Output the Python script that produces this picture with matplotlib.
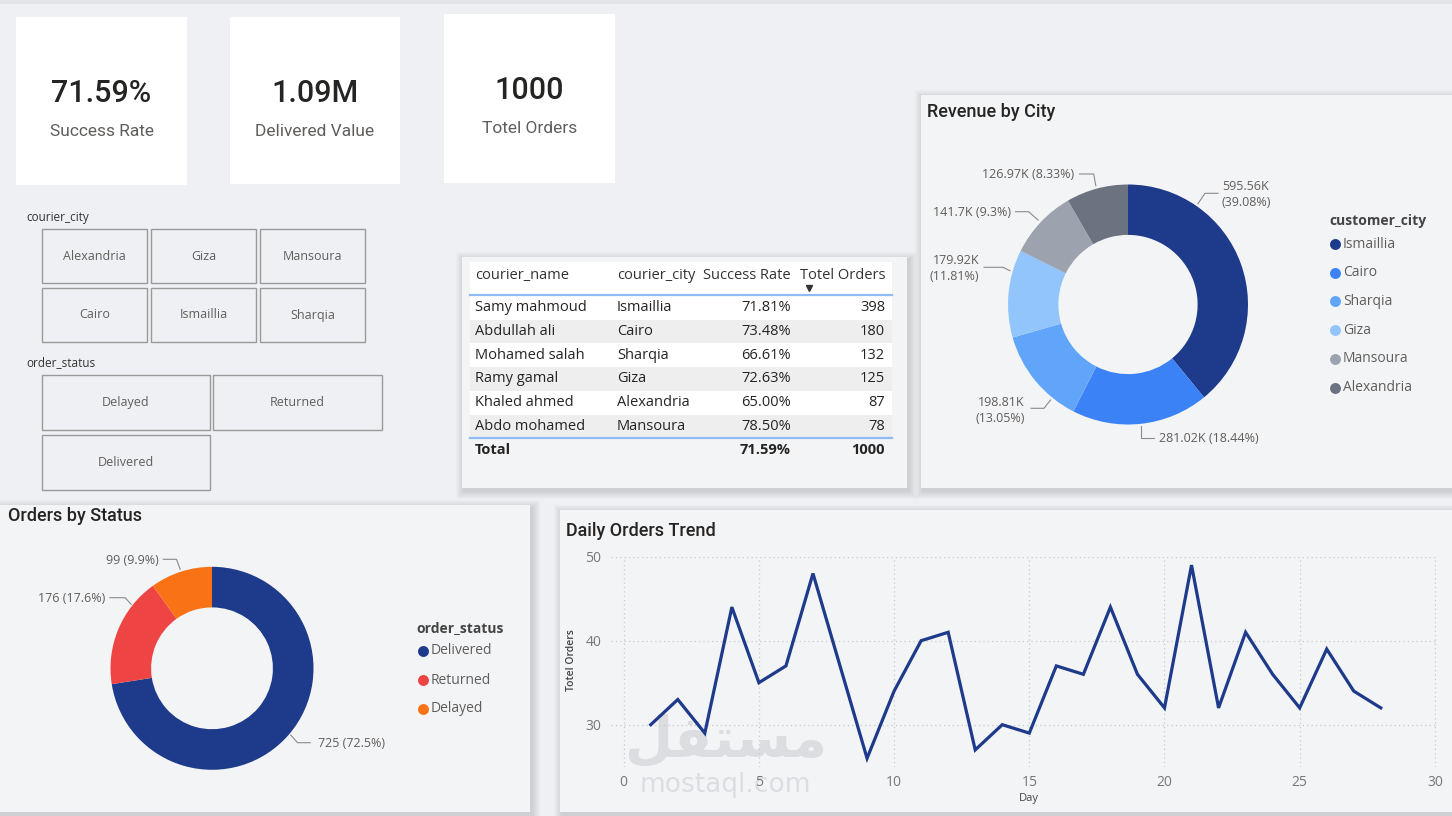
import numpy as np
import matplotlib.pyplot as plt
from matplotlib.patches import Rectangle

# KPI cards
kpi_values = ['71.59%', '1.09M', '1000']
kpi_labels = ['Success Rate', 'Delivered Value', 'Totel Orders']

# slicers
slicer_cities = ['Alexandria', 'Giza', 'Mansoura', 'Cairo', 'Ismaillia', 'Sharqia']
slicer_status = ['Delayed', 'Returned', 'Delivered']

# courier table
table_cols = ['courier_name', 'courier_city', 'Success Rate', 'Totel Orders']
couriers = ['Samy mahmoud', 'Abdullah ali', 'Mohamed salah', 'Ramy gamal', 'Khaled ahmed', 'Abdo mohamed']
courier_cities = ['Ismaillia', 'Cairo', 'Sharqia', 'Giza', 'Alexandria', 'Mansoura']
success_rates = [71.81, 73.48, 66.61, 72.63, 65.00, 78.50]
courier_orders = [398, 180, 132, 125, 87, 78]
total_rate = 71.59

# revenue by city (K)
rev_cities = ['Ismaillia', 'Cairo', 'Sharqia', 'Giza', 'Mansoura', 'Alexandria']
rev_values = [595.56, 281.02, 198.81, 179.92, 141.70, 126.97]

# orders by status
status_names = ['Delivered', 'Returned', 'Delayed']
status_counts = [725, 176, 99]

# daily orders
days = list(range(1, 29))
daily_orders = [30, 33, 29, 44, 35, 37, 48, 37, 26, 34, 40, 41, 27, 30, 29, 37,
                36, 44, 36, 32, 49, 32, 41, 36, 32, 39, 34, 32]

# colours
BG = '#eef0f3'
PANEL = '#f3f4f6'
NAVY = '#1e3a8a'
city_colors = ['#1e3a8a', '#3b82f6', '#60a5fa', '#93c5fd', '#9ca3af', '#6b7280']
status_colors = ['#1e3a8a', '#ef4444', '#f97316']
TXT = '#252423'
GREY = '#605e5c'

plt.rcParams['font.family'] = ['Open Sans', 'DejaVu Sans']
TITLE_FONT = ['Roboto', 'DejaVu Sans']

W, H = 1452, 816
fig = plt.figure(figsize=(W / 100, H / 100), dpi=100)
fig.patch.set_facecolor(BG)

# pixel canvas (top-left origin)
bg = fig.add_axes([0, 0, 1, 1])
bg.set_xlim(0, W)
bg.set_ylim(H, 0)
bg.axis('off')


def box(x0, y0, x1, y1):
    return fig.add_axes([x0 / W, 1 - y1 / H, (x1 - x0) / W, (y1 - y0) / H])


def panel(x0, y0, x1, y1, fc=PANEL, shadow=True):
    if shadow:
        for k in range(1, 9):
            bg.add_patch(Rectangle((x0 - k + 2, y0 - k + 3), x1 - x0 + 2 * k, y1 - y0 + 2 * k,
                                   fc='#000000', alpha=0.014, lw=0))
    bg.add_patch(Rectangle((x0, y0), x1 - x0, y1 - y0, fc=fc, lw=0))


def fmt_num(v):
    return f'{v:.2f}'.rstrip('0').rstrip('.')


# top strip
bg.add_patch(Rectangle((0, 0), W, 4, fc='#e2e3e6', lw=0))

# ---- KPI cards
cards = [(16, 17, 187, 185), (230, 17, 400, 184), (444, 14, 615, 183)]
for (x0, y0, x1, y1), val, lab in zip(cards, kpi_values, kpi_labels):
    bg.add_patch(Rectangle((x0, y0), x1 - x0, y1 - y0, fc='white', lw=0))
    cx = (x0 + x1) / 2
    bg.text(cx, y0 + 85, val, ha='center', va='baseline', fontsize=22, fontweight='medium',
            family=TITLE_FONT, color=TXT)
    bg.text(cx, y0 + 119, lab, ha='center', va='baseline', fontsize=12.5,
            family=TITLE_FONT, color=GREY)

# ---- slicers
bg.text(26, 217, 'courier_city', fontsize=8.5, color='#333333', va='center')
city_btns = [(42, 229, 147, 283), (151, 229, 256, 283), (260, 229, 365, 283),
             (42, 288, 147, 342), (151, 288, 256, 342), (260, 288, 365, 342)]
for (x0, y0, x1, y1), name in zip(city_btns, slicer_cities):
    bg.add_patch(Rectangle((x0, y0), x1 - x0, y1 - y0, fc='none', ec='#9a9a9a', lw=1))
    bg.text((x0 + x1) / 2, (y0 + y1) / 2, name, ha='center', va='center', fontsize=9, color=GREY)

bg.text(26, 363, 'order_status', fontsize=8.5, color='#333333', va='center')
status_btns = [(42, 375, 210, 430), (213, 375, 382, 430), (42, 435, 210, 490)]
for (x0, y0, x1, y1), name in zip(status_btns, slicer_status):
    bg.add_patch(Rectangle((x0, y0), x1 - x0, y1 - y0, fc='none', ec='#9a9a9a', lw=1))
    bg.text((x0 + x1) / 2, (y0 + y1) / 2, name, ha='center', va='center', fontsize=9, color=GREY)

# ---- table
panel(462, 257, 907, 488)
tx0, tx1 = 470, 892
bg.add_patch(Rectangle((tx0, 262), tx1 - tx0, 32, fc='white', lw=0))
col_x = [475, 617, 791, 885]
col_ha = ['left', 'left', 'right', 'right']
for x, ha, c in zip(col_x, col_ha, table_cols):
    bg.text(x, 275.5, c, ha=ha, va='center', fontsize=10.5, color='#333333')
bg.plot([809], [287.5], marker='v', ms=5, color='#333333')
row_h = 23.7
row_y0 = 296
for i, (n, c, r, o) in enumerate(zip(couriers, courier_cities, success_rates, courier_orders)):
    y0 = row_y0 + i * row_h
    bg.add_patch(Rectangle((tx0, y0), tx1 - tx0, row_h,
                           fc='white' if i % 2 == 0 else '#eeeeee', lw=0))
    cy = y0 + row_h / 2
    bg.text(col_x[0], cy, n, ha='left', va='center', fontsize=10.5, color=TXT)
    bg.text(col_x[1], cy, c, ha='left', va='center', fontsize=10.5, color=TXT)
    bg.text(col_x[2], cy, f'{r:.2f}%', ha='right', va='center', fontsize=10.5, color=TXT)
    bg.text(col_x[3], cy, f'{o}', ha='right', va='center', fontsize=10.5, color=TXT)
bg.plot([tx0, tx1], [295, 295], color='#8fbcf5', lw=1.6)
y_end = row_y0 + len(couriers) * row_h
bg.plot([tx0, tx1], [y_end, y_end], color='#8fbcf5', lw=1.6)
bg.text(col_x[0], y_end + 12, 'Total', ha='left', va='center', fontsize=10.5,
        fontweight='bold', color=TXT)
bg.text(col_x[2], y_end + 12, f'{total_rate:.2f}%', ha='right', va='center', fontsize=10.5,
        fontweight='bold', color=TXT)
bg.text(col_x[3], y_end + 12, f'{sum(courier_orders)}', ha='right', va='center', fontsize=10.5,
        fontweight='bold', color=TXT)

# ---- revenue by city
panel(921, 95, 1460, 488)
bg.text(927, 112, 'Revenue by City', fontsize=13, family=TITLE_FONT, fontweight='medium',
        color=TXT, va='center')
axr = box(1008, 184.5, 1248, 424.5)
axr.pie(rev_values, colors=city_colors, startangle=90, counterclock=False,
        radius=1, wedgeprops=dict(width=0.42, lw=0))
axr.set_xlim(-1, 1)
axr.set_ylim(-1, 1)
axr.axis('off')

rev_total = sum(rev_values)
rev_labels = [f'{fmt_num(v)}K ({fmt_num(v / rev_total * 100)}%)' for v in rev_values]
# label anchor, alignment, line break, leader path (pixels)
rev_layout = [
    (1222, 194.5, 'left', True, [(1198, 203.7), (1205, 193.3), (1218, 193.3)]),
    (1159, 439, 'left', False, [(1140.5, 426), (1140.5, 438.3), (1154, 438.3)]),
    (1025, 410, 'right', True, [(1050.5, 400), (1044, 408.3), (1031, 408.3)]),
    (979.5, 269, 'right', True, [(1010, 270.7), (1003, 267.3), (984, 267.3)]),
    (1011, 212.3, 'right', False, [(1038, 220), (1028.6, 211.7), (1015.5, 211.7)]),
    (1074.5, 174.3, 'right', False, [(1095.8, 185.7), (1093.7, 174), (1079.5, 174)]),
]
for lab, (x, y, ha, brk, path) in zip(rev_labels, rev_layout):
    if brk:
        lab = lab.replace(' ', '\n')
    bg.text(x, y, lab, ha=ha, va='center', fontsize=9, color=GREY, linespacing=1.3,
            multialignment=ha)
    px, py = zip(*path)
    bg.plot(px, py, color='#8a8a8a', lw=0.8)

bg.text(1329, 220.7, 'customer_city', fontsize=10, fontweight='bold', color='#444444', va='center')
for i, (c, col) in enumerate(zip(rev_cities, city_colors)):
    yy = 244 + i * 28.7
    bg.scatter([1334.7], [yy], s=62, color=col, lw=0)
    bg.text(1343, yy, c, fontsize=10, color=GREY, va='center')

# ---- orders by status
panel(-10, 505, 530, 812)
bg.text(8, 516, 'Orders by Status', fontsize=13, family=TITLE_FONT, fontweight='medium',
        color=TXT, va='center')
axs = box(110.5, 566.8, 313.5, 769.8)
axs.pie(status_counts, colors=status_colors, startangle=90, counterclock=False,
        radius=1, wedgeprops=dict(width=0.4, lw=0))
axs.set_xlim(-1, 1)
axs.set_ylim(-1, 1)
axs.axis('off')

st_total = sum(status_counts)
st_labels = [f'{v} ({fmt_num(v / st_total * 100)}%)' for v in status_counts]
st_layout = [
    (317.5, 743.3, 'left', [(290.7, 735), (297.5, 742.7), (310.3, 742.7)]),
    (105, 598.3, 'right', [(131.2, 604.3), (125.1, 597.7), (109.9, 597.7)]),
    (158.5, 560.7, 'right', [(180.2, 569.3), (176.5, 559.3), (163.3, 559.3)]),
]
for lab, (x, y, ha, path) in zip(st_labels, st_layout):
    bg.text(x, y, lab, ha=ha, va='center', fontsize=9, color=GREY)
    px, py = zip(*path)
    bg.plot(px, py, color='#8a8a8a', lw=0.8)

bg.text(416.5, 627.7, 'order_status', fontsize=10, fontweight='bold', color='#444444', va='center')
for i, (s, col) in enumerate(zip(status_names, status_colors)):
    yy = 651 + i * 29
    bg.scatter([422.6], [yy], s=62, color=col, lw=0)
    bg.text(431, yy, s, fontsize=10, color=GREY, va='center')

# ---- daily orders trend
panel(560, 510, 1460, 812)
bg.text(566, 531, 'Daily Orders Trend', fontsize=13, family=TITLE_FONT, fontweight='medium',
        color=TXT, va='center')

# watermark
bg.text(726, 742, '\ufede\ufed8\ufe98\ufeb4\ufee3', ha='center', va='center', fontsize=40,
        family=['DejaVu Sans'], fontweight='bold', color='#dcdde0')
bg.text(725, 785, 'mostaql.com', ha='center', va='center', fontsize=19,
        family=['DejaVu Sans'], color='#dcdde0')

axl = box(611, 556.7, 1436.5, 766.7)
axl.set_facecolor('none')
axl.plot(days, daily_orders, color=NAVY, lw=2.3, solid_joinstyle='miter')
axl.set_xlim(-0.47, 30.06)
axl.set_ylim(25, 50)
axl.set_xticks(range(0, 31, 5))
axl.set_yticks([30, 40, 50])
axl.grid(True, color='#c9c9c9', ls=(0, (1, 2.5)), lw=0.9)
axl.set_axisbelow(True)
for sp in axl.spines.values():
    sp.set_visible(False)
axl.tick_params(length=0, labelsize=10, colors='#777777')
axl.tick_params(axis='x', pad=6)
axl.tick_params(axis='y', pad=7)
bg.text(571, 660, 'Totel Orders', rotation=90, ha='center', va='center', fontsize=7.5,
        color='#444444', fontweight='semibold')
bg.text(1028.6, 799, 'Day', ha='center', va='center', fontsize=8, color='#444444')

fig.savefig('out.png', dpi=100, facecolor=fig.get_facecolor())
